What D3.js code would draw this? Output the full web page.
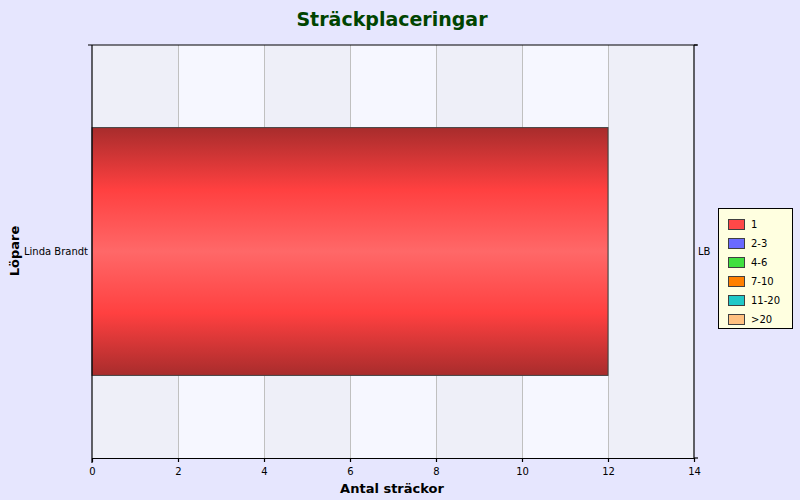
<!DOCTYPE html>
<html><head><meta charset="utf-8">
<script src="https://cdn.jsdelivr.net/npm/d3@7"></script>
<style>body{margin:0;background:#e6e6fe;}svg{display:block;font-family:"DejaVu Sans",Verdana,sans-serif;}</style>
</head><body><svg id="c" width="800" height="500"></svg>
<script>
const runners = ["Linda Brandt"];
const runnerShort = ["LB"];
const placeValues = [12];
const legendLabels = ["1","2-3","4-6","7-10","11-20",">20"];
const legendColors = ["#ff4848","#6a6aff","#40e040","#ff8000","#20c8c8","#ffc080"];
const xTicks = [0,2,4,6,8,10,12,14];
const title = "Sträckplaceringar";
const xTitle = "Antal sträckor";
const yTitle = "Löpare";

const svg = d3.select("#c");
const L=92,R=694,T=45,B=458;
const x = d3.scaleLinear().domain([0,14]).range([L,R]);
const y = d3.scaleBand().domain(runners).range([T,B]).paddingInner(0.4).paddingOuter(0.2);

svg.append("rect").attr("width",800).attr("height",500).attr("fill","#e6e6fe");
// bands
for(let i=0;i<xTicks.length-1;i++){
  svg.append("rect").attr("x",x(xTicks[i])).attr("y",T).attr("width",x(xTicks[i+1])-x(xTicks[i])).attr("height",B-T)
    .attr("fill", i%2===0?"#eeeff8":"#f6f7ff");
}
// grid
svg.append("g").selectAll("line").data(xTicks.slice(1,-1)).join("line")
  .attr("x1",d=>x(d)+0.5).attr("x2",d=>x(d)+0.5).attr("y1",T).attr("y2",B).attr("stroke","#c0c0c0");

// gradient
const defs=svg.append("defs");
const g=defs.append("linearGradient").attr("id","gr").attr("x1",0).attr("x2",0).attr("y1",0).attr("y2",1);
[[0,"#a82c2c"],[0.25,"#ff4040"],[0.5,"#ff6868"],[0.75,"#ff4040"],[1,"#a82c2c"]].forEach(s=>g.append("stop").attr("offset",s[0]).attr("stop-color",s[1]));

svg.append("g").selectAll("rect").data(runners).join("rect")
  .attr("x",x(0)).attr("y",d=>y(d)).attr("width",(d,i)=>x(placeValues[i])-x(0)).attr("height",y.bandwidth())
  .attr("fill","url(#gr)").attr("stroke","#404040").attr("stroke-width",1);

// axes
const ax=svg.append("g").attr("stroke","#000").attr("stroke-width",1.2).attr("fill","none");
ax.append("line").attr("x1",L).attr("x2",L).attr("y1",T).attr("y2",B+5);
ax.append("line").attr("x1",L-4).attr("x2",R+3).attr("y1",T).attr("y2",T);
ax.append("line").attr("x1",R).attr("x2",R).attr("y1",T).attr("y2",B);
ax.append("line").attr("x1",R).attr("x2",R+4).attr("y1",T).attr("y2",T);
ax.append("line").attr("x1",R).attr("x2",R+4).attr("y1",B).attr("y2",B);
const xa = svg.append("g").attr("transform",`translate(0,${B})`)
  .call(d3.axisBottom(x).tickValues(xTicks).tickSize(4).tickSizeOuter(0).tickFormat(d3.format("d")));
xa.select(".domain").attr("stroke","#000").attr("stroke-width",1.2);
xa.selectAll(".tick line").attr("stroke","#000").attr("stroke-width",1.2);
xa.selectAll("text").attr("font-size",10).attr("font-family","DejaVu Sans, Verdana").attr("fill","#000").attr("dy","0.95em");

// y labels
svg.append("g").selectAll("text").data(runners).join("text")
  .attr("x",L-4).attr("y",d=>y(d)+y.bandwidth()/2).attr("text-anchor","end").attr("dominant-baseline","middle")
  .attr("font-size",10).text(d=>d);
svg.append("g").selectAll("text").data(runnerShort).join("text")
  .attr("x",R+4).attr("y",(d,i)=>y(runners[i])+y.bandwidth()/2).attr("dominant-baseline","middle")
  .attr("font-size",10).text(d=>d);

// titles
svg.append("text").attr("x",392).attr("y",26).attr("text-anchor","middle").attr("font-size",19).attr("font-weight","bold").attr("fill","#004400").text(title);
svg.append("text").attr("x",392).attr("y",493).attr("text-anchor","middle").attr("font-size",13).attr("font-weight","bold").text(xTitle);
svg.append("text").attr("transform","translate(19,251) rotate(-90)").attr("text-anchor","middle").attr("font-size",13).attr("font-weight","bold").text(yTitle);

// legend
const lg=svg.append("g");
lg.append("rect").attr("x",718.5).attr("y",208.5).attr("width",74).attr("height",120).attr("fill","#ffffe0").attr("stroke","#000");
legendLabels.forEach((l,i)=>{
  const yy=219+i*19;
  lg.append("rect").attr("x",728.5).attr("y",yy+0.5).attr("width",16).attr("height",10).attr("fill",legendColors[i]).attr("stroke","#404040");
  lg.append("text").attr("x",751).attr("y",yy+6).attr("dominant-baseline","middle").attr("font-size",10).text(l);
});
</script></body></html>
